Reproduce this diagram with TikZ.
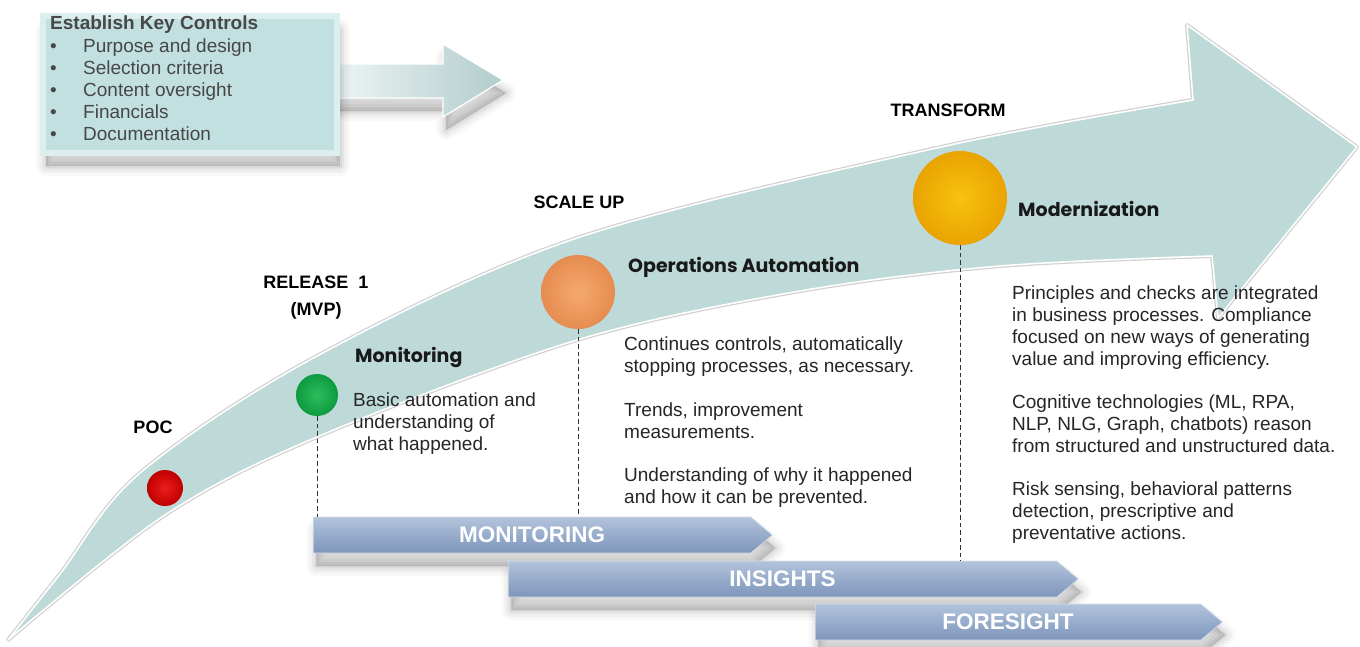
\documentclass[tikz,border=0pt]{standalone}
\usepackage{fontspec}
\setmainfont{Liberation Sans}
\newfontfamily\gothic{Poppins}
\usetikzlibrary{shapes.symbols}
\newcommand\fs[2]{\fontsize{#1}{#2}\selectfont}
\newcommand\bul{\makebox[33pt][l]{\textbullet}}
\definecolor{arrowfill}{HTML}{BDD9D8}
\definecolor{boxfill}{HTML}{C2E0E0}
\definecolor{boxedge}{HTML}{DCEEEE}
\definecolor{bandtop}{HTML}{B3C4DB}
\definecolor{bandmid}{HTML}{97ACCC}
\definecolor{bandbot}{HTML}{7E96BA}
\definecolor{redin}{HTML}{EC1C1C}
\definecolor{redout}{HTML}{C00000}
\definecolor{grnin}{HTML}{2CBE5C}
\definecolor{grnout}{HTML}{0E9A40}
\definecolor{orgin}{HTML}{F5A96E}
\definecolor{orgout}{HTML}{E68C50}
\definecolor{ylwin}{HTML}{F8C20E}
\definecolor{ylwout}{HTML}{E9A302}
\begin{document}
\begin{tikzpicture}[x=1pt,y=-1pt,
  softshadow/.style={
    preaction={fill=black, draw=black, line width=20pt, opacity=.025, line join=round, transform canvas={xshift=3pt,yshift=-13pt}},
    preaction={fill=black, draw=black, line width=14pt, opacity=.035, line join=round, transform canvas={xshift=3pt,yshift=-13pt}},
    preaction={fill=black, draw=black, line width=8pt, opacity=.045, line join=round, transform canvas={xshift=3pt,yshift=-13pt}},
    preaction={fill=black, draw=black, line width=3pt, opacity=.05, line join=round, transform canvas={xshift=3pt,yshift=-13pt}}},
  stage/.style={font=\fs{18}{27}\bfseries, inner sep=0, align=center, text=black},
  headline/.style={font=\gothic\fs{19}{22}\bfseries, inner sep=0, anchor=west, text=black!90},
  body/.style={font=\fs{19}{21.7}, align=left, anchor=north west, inner sep=0, text=black!85},
  ball/.style={circle, inner sep=0, shading=radial},
  band/.style={signal, signal to=east, signal pointer angle=80, minimum height=36pt, inner sep=0,
    top color=bandtop, bottom color=bandbot, middle color=bandmid,
    font=\fs{22.5}{22}\bfseries, text=white, draw=white!60!bandmid, line width=.6pt, softshadow},
  keybox/.style={rectangle, fill=boxfill, draw=boxedge, line width=6pt, softshadow},
  dashline/.style={draw=black!80, line width=.9pt, dash pattern=on 4.5pt off 3pt},
]
\useasboundingbox[fill=white] (0,0) rectangle (1360,646);

% small arrow behind the box
\path[left color=white!90!boxfill, right color=boxfill!90!black!95, draw=white, line width=1.2pt, softshadow]
  (300,64) -- (443,64) -- (443,44) -- (503,80) -- (443,117) -- (443,98) -- (300,98) -- cycle;

% key controls box
\node[keybox, minimum width=294pt, minimum height=137pt, anchor=north west] (box) at (40,13) {};
\node[body, font=\fs{19}{22.2}, text=black!72, anchor=north west] (keytext) at (50,16)
  {\textbf{Establish Key Controls}\\
   \bul Purpose and design\\
   \bul Selection criteria\\
   \bul Content oversight\\
   \bul Financials\\
   \bul Documentation};

% big curved arrow
\path[fill=arrowfill, line join=round,
      preaction={draw=black!30, line width=4pt, opacity=.6, line join=round},
      postaction={draw=white, line width=1.6pt, line join=round}]
  plot[smooth, tension=.55] coordinates {(8,640) (60,574) (140,473) (317,356) (577,238) (941,147) (1193,100)}
  -- (1187,25) -- (1357,147) -- (1218,318) -- (1212,256)
  -- plot[smooth, tension=.55] coordinates {(1212,256) (1000,266) (800,291) (577,340) (317,437) (165,515) (8,640)}
  -- cycle;

% bands
\node[band, minimum width=459pt, anchor=west] (mon) at (313,535) {MONITORING};
\node[band, minimum width=570pt, anchor=west] (ins) at (508,579) {INSIGHTS};
\node[band, minimum width=407pt, anchor=west] (fore) at (815,622) {FORESIGHT};

% balls
\node[ball, minimum size=36pt, inner color=redin, outer color=redout] (poc) at (165,488) {};
\node[ball, minimum size=42pt, inner color=grnin, outer color=grnout] (rel) at (317,395) {};
\node[ball, minimum size=74pt, inner color=orgin, outer color=orgout] (scale) at (578,292) {};
\node[ball, minimum size=94pt, inner color=ylwin, outer color=ylwout] (trans) at (960,198) {};

% dashed connectors
\draw[dashline] (rel.south) -- (rel.south |- mon.north);
\draw[dashline] (scale.south) -- (scale.south |- mon.north);
\draw[dashline] (trans.south) -- (trans.south |- ins.north);

% stage labels
\node[stage] (pocl) at (153,427) {POC};
\node[stage] (rell) at (316,298) {RELEASE~~1\\(MVP)};
\node[stage] (scalel) at (579,202) {SCALE UP};
\node[stage] (transl) at (948,110) {TRANSFORM};

% headings
\node[headline] (monh) at (355,357) {Monitoring};
\node[headline] (oph) at (628,267) {Operations Automation};
\node[headline] (modh) at (1018,209) {Modernization};

% bodies
\node[body] (monb) at (353,393) {Basic automation and\\understanding of\\what happened.};
\node[body] (opb) at (624,337) {Continues controls, automatically\\stopping processes, as necessary.\\[22pt]
  Trends, improvement\\measurements.\\[22pt]
  Understanding of why it happened\\and how it can be prevented.};
\node[body] (modb) at (1012,286) {Principles and checks are integrated\\in business processes. Compliance\\focused on new ways of generating\\value and improving efficiency.\\[22pt]
  Cognitive technologies (ML, RPA,\\NLP, NLG, Graph, chatbots) reason\\from structured and unstructured data.\\[22pt]
  Risk sensing, behavioral patterns\\detection, prescriptive and\\preventative actions.};
\end{tikzpicture}
\end{document}
